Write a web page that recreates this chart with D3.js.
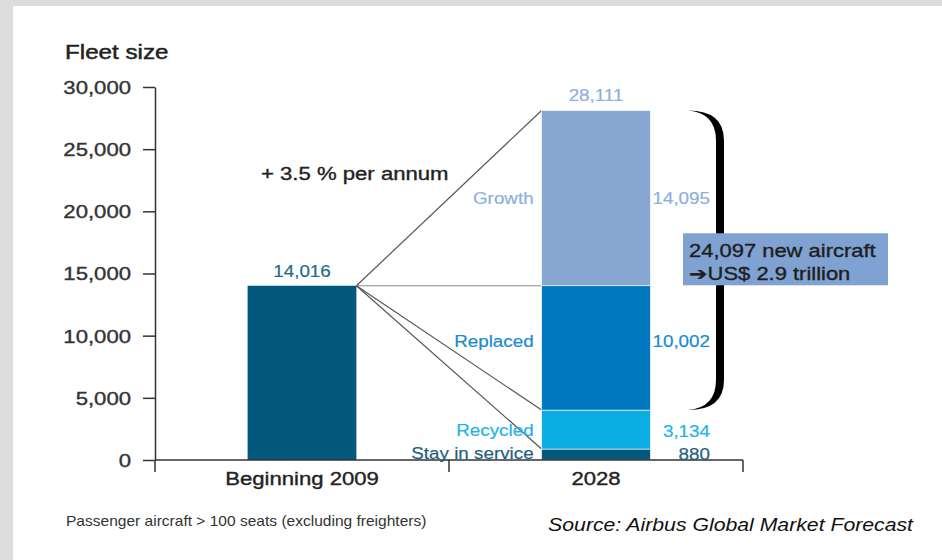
<!DOCTYPE html>
<html>
<head>
<meta charset="utf-8">
<script src="https://cdn.jsdelivr.net/npm/d3@7"></script>
<style>
  html, body { margin: 0; padding: 0; background: #dcdcdc; }
  svg { display: block; }
  text { font-family: "Liberation Sans", Arial, Helvetica, sans-serif; }
</style>
</head>
<body>
<svg id="chart" width="942" height="560"></svg>
<script>
// ---------- data ----------
const categories = ["Beginning 2009", "2028"];
const fleet2009 = 14016;
const segmentNames = ["Stay in service", "Recycled", "Replaced", "Growth"];
const values2028 = [880, 3134, 10002, 14095];
const segmentColors = ["#04587c", "#0badE3", "#0079c1", "#87a7d3"];
const labelColors = ["#1f5f80", "#22b3e8", "#1a8ad2", "#8db0dc"];
const yTicks = [0, 5000, 10000, 15000, 20000, 25000, 30000];
const newAircraftCount = 24097;
const boxLines = ["24,097 new aircraft", "\u2794US$ 2.9 trillion"];
const growthNote = "+ 3.5 % per annum";
const yTitle = "Fleet size";
const footNote = "Passenger aircraft > 100 seats (excluding freighters)";
const sourceNote = "Source: Airbus Global Market Forecast";

// ---------- setup ----------
const svg = d3.select("#chart");
svg.append("rect").attr("x", 0).attr("y", 0).attr("width", 942).attr("height", 560).attr("fill", "#dcdcdc");
svg.append("rect").attr("x", 13).attr("y", 6).attr("width", 929).attr("height", 554).attr("fill", "#ffffff");

const y = d3.scaleLinear().domain([0, 30000]).range([460, 87]);
const x = d3.scaleBand().domain(categories).range([155, 743]).paddingInner(0.63).paddingOuter(0.315);
const bw = x.bandwidth();
const fmt = d3.format(",");

function txt(g, x0, y0, s, o) {
  return g.append("text")
    .attr("transform", `translate(${x0},${y0}) scale(${o.sx || 1},1)`)
    .attr("text-anchor", o.anchor || "start")
    .attr("font-size", o.size)
    .attr("font-style", o.style || "normal")
    .attr("font-weight", o.weight || "normal")
    .attr("fill", o.fill || "#222")
    .attr("stroke", o.bold ? (o.fill || "#222") : "none")
    .attr("stroke-width", o.bold || 0)
    .text(s);
}

// cumulative stack for 2028
let acc = 0;
const stack = values2028.map((v, i) => {
  const s = { name: segmentNames[i], value: v, y0: acc, y1: acc + v, color: segmentColors[i], lc: labelColors[i] };
  acc += v;
  return s;
});
const total2028 = acc;

// ---------- connector lines ----------
const gl = svg.append("g");
const xFrom = x(categories[0]) + bw;
const xTo = x(categories[1]);
const targets = [total2028, fleet2009, stack[1].y1, stack[0].y1];
targets.forEach(v => {
  gl.append("line")
    .attr("x1", xFrom).attr("y1", y(fleet2009))
    .attr("x2", xTo).attr("y2", y(v))
    .attr("stroke", v === fleet2009 ? "#8a8a8a" : "#555")
    .attr("stroke-width", 1.2);
});

// ---------- bars ----------
svg.append("rect")
  .attr("x", x(categories[0])).attr("width", bw)
  .attr("y", y(fleet2009)).attr("height", y(0) - y(fleet2009))
  .attr("fill", "#04587c");

svg.append("g").selectAll("rect").data(stack).join("rect")
  .attr("x", x(categories[1])).attr("width", bw)
  .attr("y", d => y(d.y1)).attr("height", d => y(d.y0) - y(d.y1))
  .attr("fill", d => d.color)
  .attr("stroke", "#ffffff").attr("stroke-width", 0.6);

// ---------- axes ----------
const yAxis = d3.axisLeft(y).tickValues(yTicks).tickSize(12).tickSizeOuter(0).tickFormat(fmt);
const gy = svg.append("g").attr("transform", "translate(155,0)").call(yAxis);
gy.select(".domain").attr("stroke", "#333").attr("stroke-width", 1.5);
gy.selectAll(".tick line").attr("stroke", "#333").attr("stroke-width", 1.5);
gy.selectAll(".tick text")
  .attr("x", 0).attr("dy", "0.36em")
  .attr("transform", "translate(-24,0) scale(1.23,1)")
  .attr("font-size", 18).attr("fill", "#333")
  .attr("stroke", "#333").attr("stroke-width", 0.35)
  .attr("font-family", "'Liberation Sans', Arial, sans-serif");

const gx = svg.append("g");
const [r0, r1] = x.range();
gx.append("line").attr("x1", r0).attr("x2", r1).attr("y1", y(0)).attr("y2", y(0))
  .attr("stroke", "#333").attr("stroke-width", 1.5);
d3.range(categories.length + 1).forEach(i => {
  const xx = r0 + i * x.step();
  gx.append("line").attr("x1", xx).attr("x2", xx).attr("y1", y(0)).attr("y2", y(0) + 12)
    .attr("stroke", "#333").attr("stroke-width", 1.5);
});
categories.forEach(c => {
  txt(gx, x(c) + bw / 2, 485, c, { size: 18, sx: 1.23, anchor: "middle", fill: "#222", bold: 0.35 });
});

// ---------- labels ----------
txt(svg, 65, 59, yTitle, { size: 19.5, sx: 1.24, fill: "#222", bold: 0.45 });
txt(svg, 261, 180, growthNote, { size: 18, sx: 1.23, fill: "#222", bold: 0.35 });

txt(svg, x(categories[0]) + bw / 2, y(fleet2009) - 9, fmt(fleet2009), { size: 16.5, sx: 1.14, anchor: "middle", fill: "#1f6b8c", bold: 0.2 });
txt(svg, x(categories[1]) + bw / 2, y(total2028) - 9, fmt(total2028), { size: 16.5, sx: 1.14, anchor: "middle", fill: labelColors[3], bold: 0.2 });

const nameOffset = [4, 6, -1, 6];
stack.forEach((d, i) => {
  const cy = (y(d.y0) + y(d.y1)) / 2;
  const by = i === 0 ? 459 : cy + nameOffset[i];
  txt(svg, x(categories[1]) - 8, by, d.name, { size: 16.5, sx: 1.14, anchor: "end", fill: d.lc, bold: 0.2 });
  txt(svg, 710, i === 0 ? 460 : (i === 1 ? 437 : cy + nameOffset[i]), fmt(d.value), { size: 16.5, sx: 1.14, anchor: "end", fill: d.lc, bold: 0.2 });
});

// ---------- brace ----------
const by0 = y(total2028), by1 = y(stack[1].y1), bym = (by0 + by1) / 2;
const xL = 688, xS = 720, w = 8, xM = 732, h = 30;
const xSr = xS + w / 2, xSl = xS - w / 2;
const bracePath = [
  `M${xL},${by0}`,
  `Q${xSr},${by0} ${xSr},${by0 + h}`,
  `L${xSr},${bym - h}`,
  `Q${xSr},${bym} ${xM},${bym}`,
  `Q${xSr},${bym} ${xSr},${bym + h}`,
  `L${xSr},${by1 - h}`,
  `Q${xSr},${by1} ${xL},${by1}`,
  `Q${xSl},${by1 - 2.5} ${xSl},${by1 - h}`,
  `L${xSl},${bym + h}`,
  `Q${xSl},${bym} ${xM},${bym}`,
  `Q${xSl},${bym} ${xSl},${bym - h}`,
  `L${xSl},${by0 + h}`,
  `Q${xSl},${by0 + 2.5} ${xL},${by0}`,
  "Z"
].join(" ");
svg.append("path").attr("d", bracePath).attr("fill", "#000");

// ---------- callout box ----------
const gb = svg.append("g");
gb.append("rect").attr("x", 683).attr("y", bym - 27).attr("width", 205).attr("height", 52)
  .attr("fill", "#7fa2d2");
txt(gb, 689, bym - 3, boxLines[0], { size: 18, sx: 1.22, fill: "#1e1e1e", bold: 0.35 });
txt(gb, 689, bym + 20, boxLines[1], { size: 18, sx: 1.22, fill: "#1e1e1e", bold: 0.35 });

// ---------- footer ----------
txt(svg, 66, 526, footNote, { size: 14, sx: 1.11, fill: "#333" });
txt(svg, 913, 531, sourceNote, { size: 18, sx: 1.18, anchor: "end", style: "italic", fill: "#111" });
</script>
</body>
</html>
